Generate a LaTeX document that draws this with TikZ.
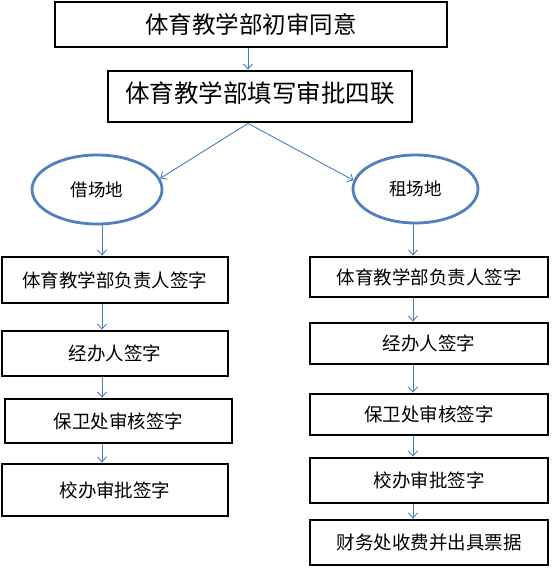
\documentclass[tikz,border=0pt]{standalone}
\usepackage{fontspec}
\setmainfont{Noto Sans CJK SC}
\usetikzlibrary{arrows.meta,shapes.geometric}
\definecolor{arrowblue}{RGB}{74,126,187}
\definecolor{ellblue}{RGB}{79,129,189}
\tikzset{
  flowbox/.style={draw=black,line width=2.8pt,rectangle,inner sep=0pt,fill=white},
  ellnode/.style={draw=ellblue,line width=2.8pt,ellipse,inner sep=0pt,fill=white},
  arr/.style={draw=arrowblue,line width=0.9pt,-{Straight Barb[length=5pt,width=9pt]}},
  bigtext/.style={font=\fontsize{23.5}{26}\selectfont},
  hugetext/.style={font=\fontsize{24.5}{27}\selectfont},
  smalltext/.style={font=\fontsize{18.5}{20}\selectfont},
  elltext/.style={font=\fontsize{17.5}{19}\selectfont},
}
\begin{document}
\begin{tikzpicture}[x=1pt,y=-1pt]
\useasboundingbox[fill=white] (0,0) rectangle (555,568);
% top boxes
\node[flowbox,minimum width=392pt,minimum height=45pt] (b1) at (251,24.5) {};
\node[bigtext] (t1) at (251,24) {体育教学部初审同意};
\node[flowbox,minimum width=304pt,minimum height=51pt] (b2) at (260,96.5) {};
\node[hugetext] (t2) at (260,93) {体育教学部填写审批四联};
% ellipses
\node[ellnode,minimum width=130pt,minimum height=69pt,elltext] (elL) at (97,189.5) {借场地};
\node[ellnode,minimum width=125pt,minimum height=68pt,elltext] (elR) at (415.5,189) {租场地};
% left column
\node[flowbox,minimum width=226pt,minimum height=46pt,smalltext] (l1) at (115,280) {体育教学部负责人签字};
\node[flowbox,minimum width=226pt,minimum height=45pt,smalltext] (l2) at (115,353.5) {经办人签字};
\node[flowbox,minimum width=227pt,minimum height=44pt,smalltext] (l3) at (118.5,421) {保卫处审核签字};
\node[flowbox,minimum width=226pt,minimum height=52pt,smalltext] (l4) at (115,490) {校办审批签字};
% right column
\node[flowbox,minimum width=238pt,minimum height=40pt,smalltext] (r1) at (429,277) {体育教学部负责人签字};
\node[flowbox,minimum width=238pt,minimum height=41pt,smalltext] (r2) at (429,343.5) {经办人签字};
\node[flowbox,minimum width=238pt,minimum height=41pt,smalltext] (r3) at (429,414.5) {保卫处审核签字};
\node[flowbox,minimum width=238pt,minimum height=45pt,smalltext] (r4) at (429,480.5) {校办审批签字};
\node[flowbox,minimum width=238pt,minimum height=45pt,smalltext] (r5) at (429,542.5) {财务处收费并出具票据};
% connector columns
\coordinate (ax) at (248,0);
\coordinate (lx) at (102,0);
\coordinate (rx) at (413,0);
% connectors
\draw[arr] (b1.south -| ax) -- (b2.north -| ax);
\draw[arr] (b2.south -| ax) -- (elL.10);
\draw[arr] (b2.south -| ax) -- (elR.172);
\draw[arr] (elL.south -| lx) -- (l1.north -| lx);
\draw[arr] (l1.south -| lx) -- (l2.north -| lx);
\draw[arr] (l2.south -| lx) -- (l3.north -| lx);
\draw[arr] (l3.south -| lx) -- (l4.north -| lx);
\draw[arr] (elR.south -| rx) -- (r1.north -| rx);
\draw[arr] (r1.south -| rx) -- (r2.north -| rx);
\draw[arr] (r2.south -| rx) -- (r3.north -| rx);
\draw[arr] (r3.south -| rx) -- (r4.north -| rx);
\draw[arr] (r4.south -| rx) -- (r5.north -| rx);
\end{tikzpicture}
\end{document}
